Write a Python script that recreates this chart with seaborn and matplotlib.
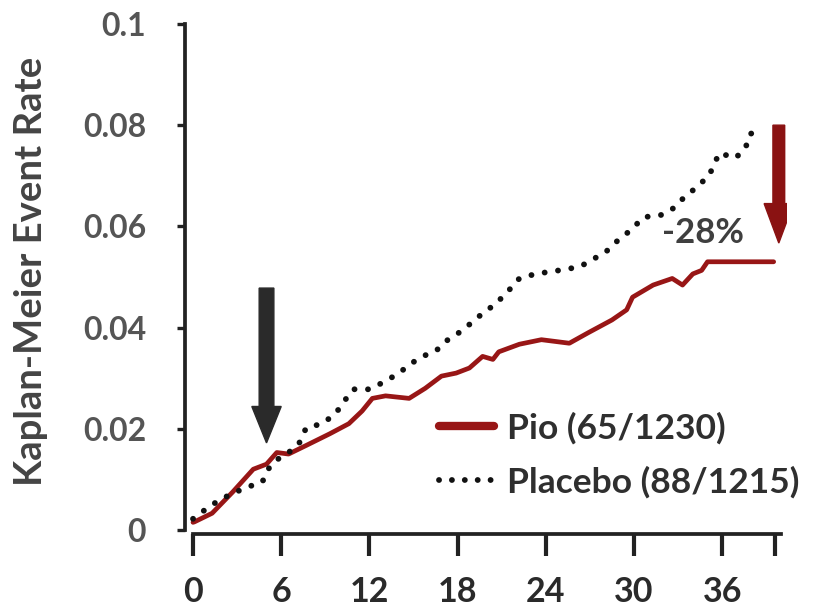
import numpy as np
import pandas as pd
import matplotlib
matplotlib.use("Agg")
import matplotlib.pyplot as plt
import seaborn as sns

# ---- data ----
pio_month = [0.0, 0.1, 1.3, 2.7, 4.1, 5.0, 5.7, 6.5, 7.7, 9.3, 10.6, 11.5, 12.2, 13.1, 14.7,
             15.8, 16.9, 17.9, 18.8, 19.7, 20.4, 20.8, 22.2, 23.7, 25.6, 26.9, 28.5, 29.5,
             29.9, 31.3, 32.6, 33.3, 34.0, 34.6, 35.0, 39.5]
pio_rate = [0.0015, 0.0016, 0.0033, 0.0075, 0.012, 0.013, 0.0153, 0.015, 0.0167, 0.019, 0.021,
            0.0235, 0.026, 0.0265, 0.026, 0.028, 0.0304, 0.031, 0.032, 0.0343, 0.0337, 0.0352,
            0.0367, 0.0376, 0.0369, 0.039, 0.0415, 0.0435, 0.046, 0.0484, 0.0497, 0.0484,
            0.0506, 0.0513, 0.053, 0.053]

pbo_month = [0.0, 0.5, 1.3, 2.2, 3.6, 4.7, 5.2, 5.9, 6.5, 7.2, 7.7, 8.8, 9.7, 10.3, 10.9, 12.0,
             13.1, 14.0, 14.9, 15.6, 16.5, 17.2, 18.1, 18.8, 19.7, 20.6, 21.5, 22.2, 23.3, 24.9,
             26.3, 27.1, 28.1, 29.0, 29.9, 30.6, 31.8, 32.6, 33.3, 34.2, 35.1, 35.8, 36.9, 37.6,
             37.8, 38.5]
pbo_rate = [0.0022, 0.0033, 0.005, 0.0065, 0.0084, 0.0094, 0.0124, 0.0143, 0.0153, 0.017, 0.0202,
            0.021, 0.023, 0.0255, 0.0278, 0.0278, 0.0294, 0.031, 0.033, 0.0343, 0.0353, 0.0373,
            0.039, 0.0406, 0.0428, 0.0447, 0.0474, 0.0497, 0.0506, 0.0513, 0.052, 0.0533, 0.055,
            0.0575, 0.0595, 0.0618, 0.0622, 0.0634, 0.0654, 0.0676, 0.07, 0.0745, 0.0735, 0.0755,
            0.078, 0.0794]

series_labels = ["Pio (65/1230)", "Placebo (88/1215)"]
x_ticks = [0, 6, 12, 18, 24, 30, 36]
y_ticks = [0, 0.02, 0.04, 0.06, 0.08, 0.1]
y_tick_labels = ["0", "0.02", "0.04", "0.06", "0.08", "0.1"]
y_label = "Kaplan-Meier Event Rate"
reduction_text = "-28%"

# ---- style ----
sns.set_style("white")
plt.rcParams["font.family"] = ["Lato", "DejaVu Sans"]
RED = "#981616"

fig = plt.figure(figsize=(8.19, 6.13), dpi=100)
ax = fig.add_axes([0.2258, 0.1289, 0.7350, 0.8320])

df_pio = pd.DataFrame({"month": pio_month, "rate": pio_rate})
df_pbo = pd.DataFrame({"month": pbo_month, "rate": pbo_rate})

sns.lineplot(data=df_pio, x="month", y="rate", ax=ax, color=RED, lw=3.4,
             estimator=None, sort=False, label=series_labels[0])
sns.lineplot(data=df_pbo, x="month", y="rate", ax=ax, color="#111111", lw=4.2,
             estimator=None, sort=False, label=series_labels[1])
lines = ax.get_lines()
lines[1].set_linestyle((0, (0.01, 2.3)))
lines[1].set_dash_capstyle("round")

ax.set_xlim(-0.55, 40.4)
ax.set_ylim(-0.0008, 0.1)

# arrows
ax.arrow(5.0, 0.0478, 0, 0.0172 - 0.0478, width=1.0, head_width=2.0, head_length=0.0072,
         length_includes_head=True, color="#2a2a2a", zorder=5)
ax.arrow(39.85, 0.0800, 0, 0.0567 - 0.0800, width=0.8, head_width=2.0, head_length=0.0078,
         length_includes_head=True, color="#8a1212", zorder=5)
ax.text(34.7, 0.0586, reduction_text, ha="center", va="center", fontsize=25,
        fontweight="bold", color="#3f3f3f")

# spines & ticks
for s in ["top", "right"]:
    ax.spines[s].set_visible(False)
for s in ["left", "bottom"]:
    ax.spines[s].set_linewidth(2.7)
    ax.spines[s].set_color("#222222")
ax.spines["left"].set_bounds(0, 0.1)
ax.spines["bottom"].set_bounds(0, 40)

ax.set_xticks(x_ticks + [39.6])
ax.set_xticklabels([str(t) for t in x_ticks] + [""])
ax.set_yticks(y_ticks)
ax.set_yticklabels(y_tick_labels)
ax.tick_params(axis="x", bottom=True, direction="out", length=16, width=3.0, color="#222222",
               pad=14, labelsize=24.5, labelcolor="#2a2a2a")
ax.tick_params(axis="y", left=True, direction="out", length=6, width=2.4, color="#222222",
               pad=22, labelsize=23, labelcolor="#555555")
for lab in ax.get_xticklabels():
    lab.set_fontweight("bold")
for lab in ax.get_yticklabels():
    lab.set_fontweight("bold")

ax.set_xlabel("")
ax.set_ylabel(y_label, fontsize=27.5, fontweight="bold", color="#444444")
ax.yaxis.set_label_coords(-0.228, 0.514)

leg = ax.legend(loc="upper left", bbox_to_anchor=(0.422, 0.24), frameon=False,
                prop={"family": ["Lato", "DejaVu Sans"], "size": 25.5, "weight": "bold"},
                handlelength=1.55, handletextpad=0.37, labelspacing=0.62, borderpad=0,
                borderaxespad=0)
for t in leg.get_texts():
    t.set_color("#2f2f2f")
hl = leg.legend_handles
hl[0].set_linewidth(6)
hl[1].set_linewidth(4.2)
hl[1].set_linestyle((0, (0.01, 2.2)))
hl[1].set_dash_capstyle("round")

fig.savefig("out.png", dpi=100, facecolor="white")
